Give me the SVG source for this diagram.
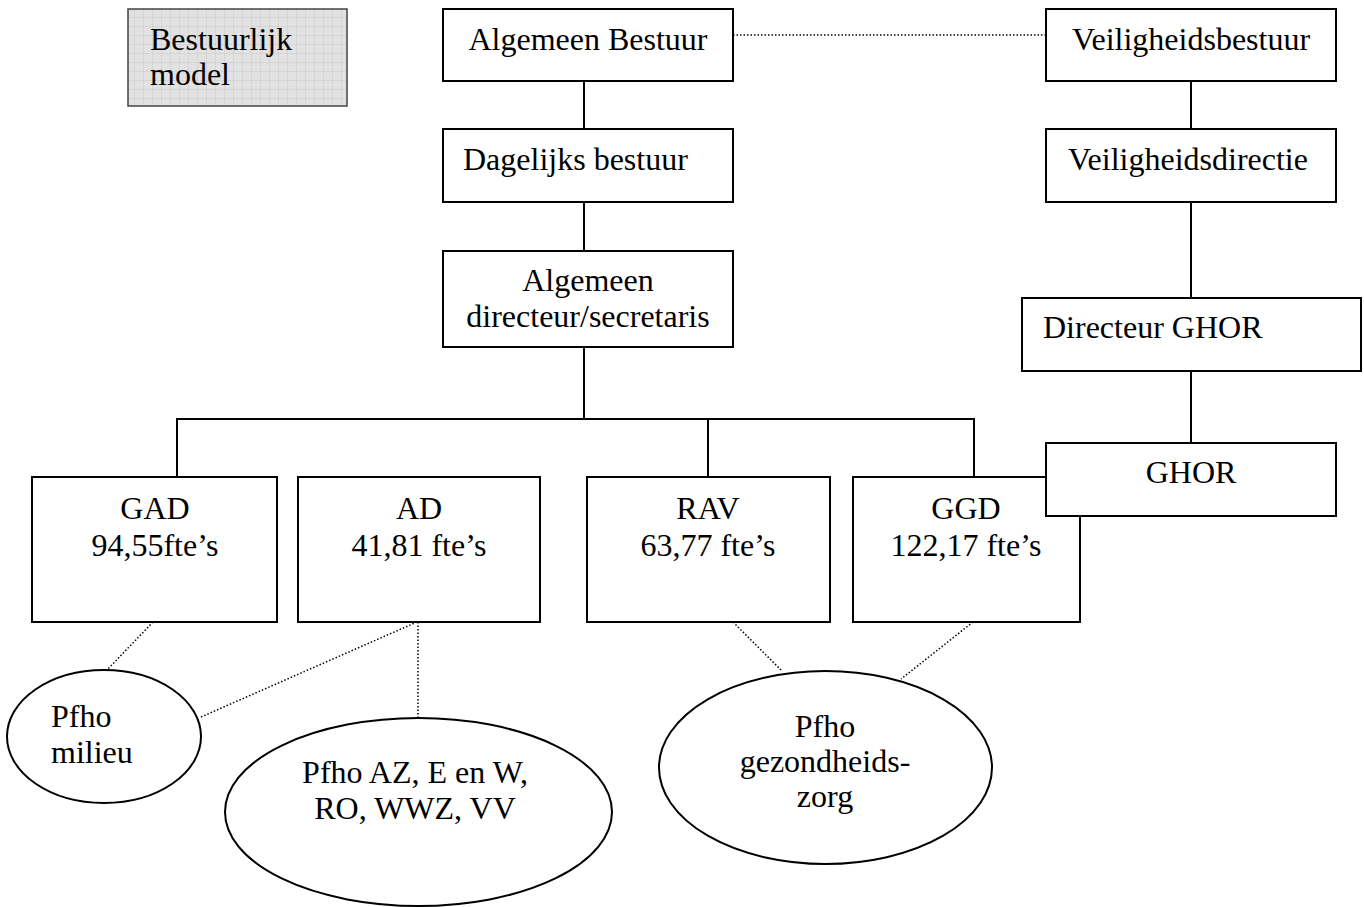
<svg xmlns="http://www.w3.org/2000/svg" width="1364" height="907" viewBox="0 0 1364 907">
<style>
text{font-family:"Liberation Serif","Times New Roman",serif;font-size:32px;fill:#000}
.box{fill:#fff;stroke:#000;stroke-width:2}
.ell{fill:#fff;stroke:#000;stroke-width:2}
.solid{stroke:#000;stroke-width:2;fill:none}
.dot{stroke:#000;stroke-width:1.5;stroke-dasharray:1.5 2;fill:none}
.c{text-anchor:middle}
</style>
<defs>
<pattern id="grid" width="9" height="9" patternUnits="userSpaceOnUse">
<rect width="9" height="9" fill="#e2e2e2"/>
<path d="M9 0V9M0 9H9" stroke="#c9c9c9" stroke-width="1"/>
</pattern>
</defs>
<rect width="1364" height="907" fill="#fff"/>
<g id="connectors">
<line class="dot" x1="733" y1="35" x2="1046" y2="35"/>
<line class="solid" x1="584" y1="81" x2="584" y2="129"/>
<line class="solid" x1="584" y1="202" x2="584" y2="251"/>
<line class="solid" x1="584" y1="347" x2="584" y2="419"/>
<polyline class="solid" points="177,477 177,419 974,419 974,477"/>
<line class="solid" x1="708" y1="419" x2="708" y2="477"/>
<line class="solid" x1="1191" y1="81" x2="1191" y2="129"/>
<line class="solid" x1="1191" y1="202" x2="1191" y2="298"/>
<line class="solid" x1="1191" y1="371" x2="1191" y2="443"/>
<line class="dot" x1="153" y1="622" x2="107" y2="670"/>
<line class="dot" x1="417" y1="622" x2="201" y2="717"/>
<line class="dot" x1="418" y1="622" x2="418" y2="718"/>
<line class="dot" x1="733" y1="622" x2="782" y2="671"/>
<line class="dot" x1="973" y1="622" x2="901" y2="679"/>
</g>
<g id="bestuurlijk-model">
<rect x="128" y="9" width="219" height="97" fill="url(#grid)" stroke="#444" stroke-width="1.5"/>
<text x="150" y="50">Bestuurlijk</text>
<text x="150" y="85">model</text>
</g>
<g id="algemeen-bestuur">
<rect class="box" x="443" y="9" width="290" height="72"/>
<text class="c" x="588" y="50">Algemeen Bestuur</text>
</g>
<g id="veiligheidsbestuur">
<rect class="box" x="1046" y="9" width="290" height="72"/>
<text class="c" x="1191" y="50">Veiligheidsbestuur</text>
</g>
<g id="dagelijks-bestuur">
<rect class="box" x="443" y="129" width="290" height="73"/>
<text x="463" y="170">Dagelijks bestuur</text>
</g>
<g id="veiligheidsdirectie">
<rect class="box" x="1046" y="129" width="290" height="73"/>
<text x="1068" y="170">Veiligheidsdirectie</text>
</g>
<g id="algemeen-directeur">
<rect class="box" x="443" y="251" width="290" height="96"/>
<text class="c" x="588" y="291">Algemeen</text>
<text class="c" x="588" y="327">directeur/secretaris</text>
</g>
<g id="directeur-ghor">
<rect class="box" x="1022" y="298" width="339" height="73"/>
<text x="1043" y="338">Directeur GHOR</text>
</g>
<g id="gad">
<rect class="box" x="32" y="477" width="245" height="145"/>
<text class="c" x="155" y="519">GAD</text>
<text class="c" x="155" y="556">94,55fte’s</text>
</g>
<g id="ad">
<rect class="box" x="298" y="477" width="242" height="145"/>
<text class="c" x="419" y="519">AD</text>
<text class="c" x="419" y="556">41,81 fte’s</text>
</g>
<g id="rav">
<rect class="box" x="587" y="477" width="243" height="145"/>
<text class="c" x="708" y="519">RAV</text>
<text class="c" x="708" y="556">63,77 fte’s</text>
</g>
<g id="ggd">
<rect class="box" x="853" y="477" width="227" height="145"/>
<text class="c" x="966" y="519">GGD</text>
<text class="c" x="966" y="556">122,17 fte’s</text>
</g>
<g id="ghor">
<rect class="box" x="1046" y="443" width="290" height="73"/>
<text class="c" x="1191" y="483">GHOR</text>
</g>
<g id="pfho-milieu">
<ellipse class="ell" cx="104" cy="736.5" rx="97" ry="66.5"/>
<text x="51" y="727">Pfho</text>
<text x="51" y="763">milieu</text>
</g>
<g id="pfho-az">
<ellipse class="ell" cx="418.5" cy="812" rx="193.5" ry="94"/>
<text class="c" x="415" y="783">Pfho AZ, E en W,</text>
<text class="c" x="415" y="819">RO, WWZ, VV</text>
</g>
<g id="pfho-gezondheidszorg">
<ellipse class="ell" cx="825.5" cy="767.5" rx="166.5" ry="96.5"/>
<text class="c" x="825" y="737">Pfho</text>
<text class="c" x="825" y="772">gezondheids-</text>
<text class="c" x="825" y="807">zorg</text>
</g>
</svg>
